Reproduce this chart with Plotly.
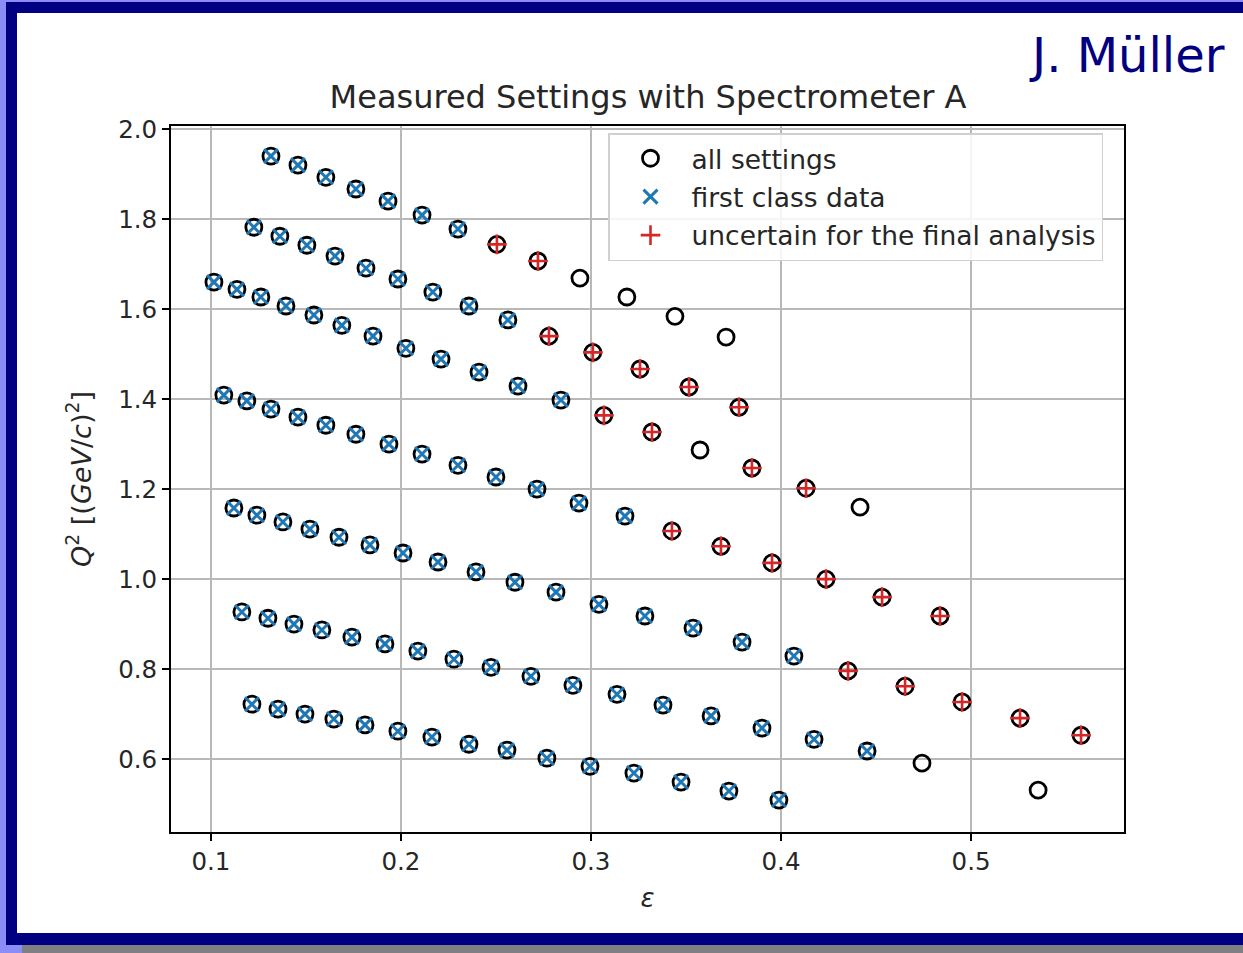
import plotly.graph_objects as go

# ---- data (epsilon, Q^2 in (GeV/c)^2) ----
first_class_eps = [
    0.1316, 0.1458, 0.1605, 0.1763, 0.1932, 0.2111, 0.2300,
    0.1226, 0.1363, 0.1505, 0.1653, 0.1816, 0.1984, 0.2168, 0.2358, 0.2563,
    0.1016, 0.1137, 0.1263, 0.1395, 0.1542, 0.1689, 0.1853, 0.2026, 0.2211, 0.2411, 0.2616, 0.2842,
    0.1068, 0.1189, 0.1316, 0.1458, 0.1605, 0.1763, 0.1937, 0.2111, 0.2300, 0.2500, 0.2716, 0.2937, 0.3179,
    0.1121, 0.1242, 0.1379, 0.1521, 0.1674, 0.1837, 0.2011, 0.2195, 0.2395, 0.2600, 0.2816, 0.3042, 0.3284, 0.3537, 0.3795, 0.4068,
    0.1163, 0.1300, 0.1437, 0.1584, 0.1742, 0.1916, 0.2089, 0.2279, 0.2474, 0.2684, 0.2905, 0.3137, 0.3379, 0.3632, 0.3900, 0.4174, 0.4453,
    0.1216, 0.1353, 0.1495, 0.1647, 0.1811, 0.1984, 0.2163, 0.2358, 0.2558, 0.2768, 0.2995, 0.3226, 0.3474, 0.3726, 0.3989,
]
first_class_q2 = [
    1.940, 1.920, 1.893, 1.867, 1.840, 1.809, 1.778,
    1.782, 1.762, 1.742, 1.718, 1.691, 1.667, 1.638, 1.607, 1.576,
    1.660, 1.644, 1.627, 1.607, 1.587, 1.564, 1.540, 1.513, 1.489, 1.460, 1.429, 1.398,
    1.409, 1.396, 1.378, 1.360, 1.342, 1.322, 1.300, 1.278, 1.253, 1.227, 1.200, 1.169, 1.140,
    1.158, 1.142, 1.127, 1.111, 1.093, 1.076, 1.058, 1.038, 1.016, 0.993, 0.971, 0.944, 0.918, 0.891, 0.860, 0.829,
    0.927, 0.913, 0.900, 0.887, 0.871, 0.856, 0.840, 0.822, 0.804, 0.784, 0.764, 0.744, 0.720, 0.696, 0.669, 0.644, 0.618,
    0.722, 0.711, 0.700, 0.689, 0.676, 0.662, 0.649, 0.633, 0.620, 0.602, 0.584, 0.569, 0.549, 0.529, 0.509,
]

uncertain_eps = [
    0.2505, 0.2721,
    0.2779, 0.3010, 0.3258, 0.3516, 0.3779,
    0.3068, 0.3321, 0.3847, 0.4132,
    0.3426, 0.3684, 0.3953, 0.4237, 0.4532, 0.4837,
    0.4353, 0.4653, 0.4953, 0.5258, 0.5579,
]
uncertain_q2 = [
    1.744, 1.707,
    1.540, 1.504, 1.467, 1.427, 1.382,
    1.364, 1.327, 1.247, 1.202,
    1.107, 1.073, 1.036, 1.000, 0.960, 0.918,
    0.796, 0.762, 0.727, 0.691, 0.653,
]

other_eps = [0.2942, 0.3189, 0.3442, 0.3711, 0.3574, 0.4416, 0.4742, 0.5353]
other_q2 = [1.669, 1.627, 1.584, 1.538, 1.287, 1.160, 0.591, 0.531]

all_eps = first_class_eps + uncertain_eps + other_eps
all_q2 = first_class_q2 + uncertain_q2 + other_q2

x_ticks = [0.1, 0.2, 0.3, 0.4, 0.5]
y_ticks = [0.6, 0.8, 1.0, 1.2, 1.4, 1.6, 1.8, 2.0]

# ---- layout geometry (pixels) ----
W, H = 1243, 953
L, R, T, B = 171, 1124, 126, 832


def px(xp):
    return (xp - L) / (R - L)


def py(yp):
    return (B - yp) / (B - T)


FONT = "DejaVu Sans"
TXT = "#262626"

fig = go.Figure()
fig.add_trace(go.Scatter(
    x=all_eps, y=all_q2, mode="markers", name="all settings",
    legendgroup="a",
    marker=dict(symbol="circle-open", size=16, color="black", line=dict(width=2.8, color="black")),
))
fig.add_trace(go.Scatter(
    x=first_class_eps, y=first_class_q2, mode="markers", name="first class data",
    legendgroup="b",
    marker=dict(symbol="x-thin", size=14, color="#1f77b4", line=dict(width=3, color="#1f77b4")),
))
fig.add_trace(go.Scatter(
    x=uncertain_eps, y=uncertain_q2, mode="markers", name="uncertain for the final analysis",
    legendgroup="c",
    marker=dict(symbol="cross-thin", size=14, color="#d62728", line=dict(width=2.6, color="#d62728")),
))

NAVY = "#000080"
LIGHT = "#8c8cf6"
GREY = "#808080"


def rect(x0, y0, x1, y1, color):
    return dict(type="rect", xref="paper", yref="paper",
                x0=px(x0), x1=px(x1), y0=py(y1), y1=py(y0),
                fillcolor=color, line=dict(width=0), layer="above")


shapes = [
    rect(0, 0, 6, 953, LIGHT),
    rect(0, 0, 1243, 2, LIGHT),
    rect(6, 2, 1243, 13, NAVY),
    rect(6, 2, 17, 945, NAVY),
    rect(6, 933, 1243, 945, NAVY),
    rect(0, 945, 22, 953, LIGHT),
    rect(22, 945, 1243, 953, GREY),
]

fig.update_layout(
    width=W, height=H,
    margin=dict(l=L, r=W - R, t=T, b=H - B, pad=0),
    paper_bgcolor="white", plot_bgcolor="white",
    font=dict(family=FONT, color=TXT, size=22),
    title=dict(text="Measured Settings with Spectrometer A", x=px(648), xref="paper",
               xanchor="center", y=1 - 97 / H, yref="container", yanchor="middle",
               font=dict(size=32, family=FONT, color=TXT)),
    shapes=shapes,
    showlegend=True,
    legend=dict(x=px(608), y=py(133), xanchor="left", yanchor="top",
                bgcolor="rgba(255,255,255,0.85)", bordercolor="#d0d0d0", borderwidth=1.5,
                font=dict(size=26.5, family=FONT, color=TXT),
                traceorder="grouped", tracegroupgap=1, itemwidth=72),
    annotations=[dict(text="J. Müller", xref="paper", yref="paper", x=px(1227), y=py(55),
                      xanchor="right", yanchor="middle", showarrow=False,
                      font=dict(size=48, family=FONT, color=NAVY))],
)

fig.update_xaxes(
    range=[0.079, 0.5805], tickvals=x_ticks, ticktext=[f"{v:.1f}" for v in x_ticks],
    showgrid=True, gridcolor="#b8b8b8", gridwidth=1.5, zeroline=False,
    showline=True, linecolor="black", linewidth=2, mirror=True,
    ticks="outside", ticklen=7, tickwidth=1.5, tickcolor="black",
    tickfont=dict(size=24.5, family=FONT, color=TXT),
    title=dict(text="<i>ε</i>", font=dict(size=26, family=FONT, color=TXT), standoff=13),
)
fig.update_yaxes(
    range=[0.438, 2.007], tickvals=y_ticks, ticktext=[f"{v:.1f}" for v in y_ticks],
    showgrid=True, gridcolor="#b8b8b8", gridwidth=1.5, zeroline=False,
    showline=True, linecolor="black", linewidth=2, mirror=True,
    ticks="outside", ticklen=7, tickwidth=1.5, tickcolor="black",
    tickfont=dict(size=24.5, family=FONT, color=TXT),
    title=dict(text="<i>Q</i><sup>2</sup> [(<i>GeV</i>/<i>c</i>)<sup>2</sup>]",
               font=dict(size=27, family=FONT, color=TXT), standoff=19),
)

fig.write_html("out.html")
